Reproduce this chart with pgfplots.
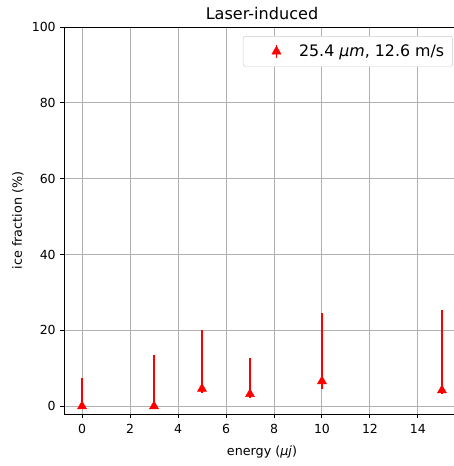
\documentclass[border=0pt]{standalone}
\usepackage{pgfplots}
\pgfplotsset{compat=1.18}
\usepackage{fontspec}
\setmainfont{DejaVu Sans}
\begin{document}
\begin{tikzpicture}
\begin{axis}[
  scale only axis, width=332.6pt, height=325.1pt,
  xmin=-0.75, xmax=15.75, ymin=-2.05, ymax=100,
  xtick={0,2,...,14}, ytick={0,20,...,100},
  grid=major, grid style={color=black!31, line width=0.8pt},
  tick align=outside, xtick pos=bottom, ytick pos=left, major tick length=3.5pt,
  tick style={black, line width=0.8pt},
  axis line style={line width=0.8pt},
  ticklabel style={font=\fontsize{10.5}{12}\selectfont},
  xticklabel style={yshift=-1.5pt},
  /pgf/number format/assume math mode=true,
  xlabel={energy (\textit{μj})}, ylabel={ice fraction (\%)},
  label style={font=\fontsize{10.7}{12}\selectfont},
  xlabel style={yshift=-3pt},
  title={Laser-induced}, title style={font=\fontsize{13.5}{15}\selectfont, yshift=-3pt},
  legend style={at={(1,1)}, anchor=north east, xshift=-6pt, yshift=-7.6pt,
    draw=black!20, rounded corners=2pt, font=\fontsize{13.3}{15}\selectfont,
    inner xsep=5pt, inner ysep=5pt},
  legend cell align=left,
  legend image code/.code={
    \path[draw=none] (-23pt,0pt) -- (17pt,0pt);
    \draw[red, line width=1.6pt] (0pt,-5.5pt) -- (0pt,5.5pt);
    \draw[red, mark=triangle*, mark size=4.4pt] plot coordinates {(0pt,0pt)};
  },
]
\addplot[red, only marks, mark=triangle*, mark size=4.4pt,
  error bars/.cd, y dir=both, y explicit,
  error bar style={red, line width=1.6pt}, error mark=none]
  table[x=x, y=y, y error plus=ep, y error minus=em] {
x  y   ep   em
0  0   7.5  0
3  0   13.4 0
5  4.6 15.6 1
7  3.2 9.6  1
10 6.6 18.0 2.0
15 4.2 21.3 1
};
\addlegendentry{25.4 \textit{μm}, 12.6 m/s}
\end{axis}
\pgfresetboundingbox
\path[use as bounding box] (-53.8pt,-43.7pt) rectangle (327.6pt,347.8pt);
\end{tikzpicture}
\end{document}
